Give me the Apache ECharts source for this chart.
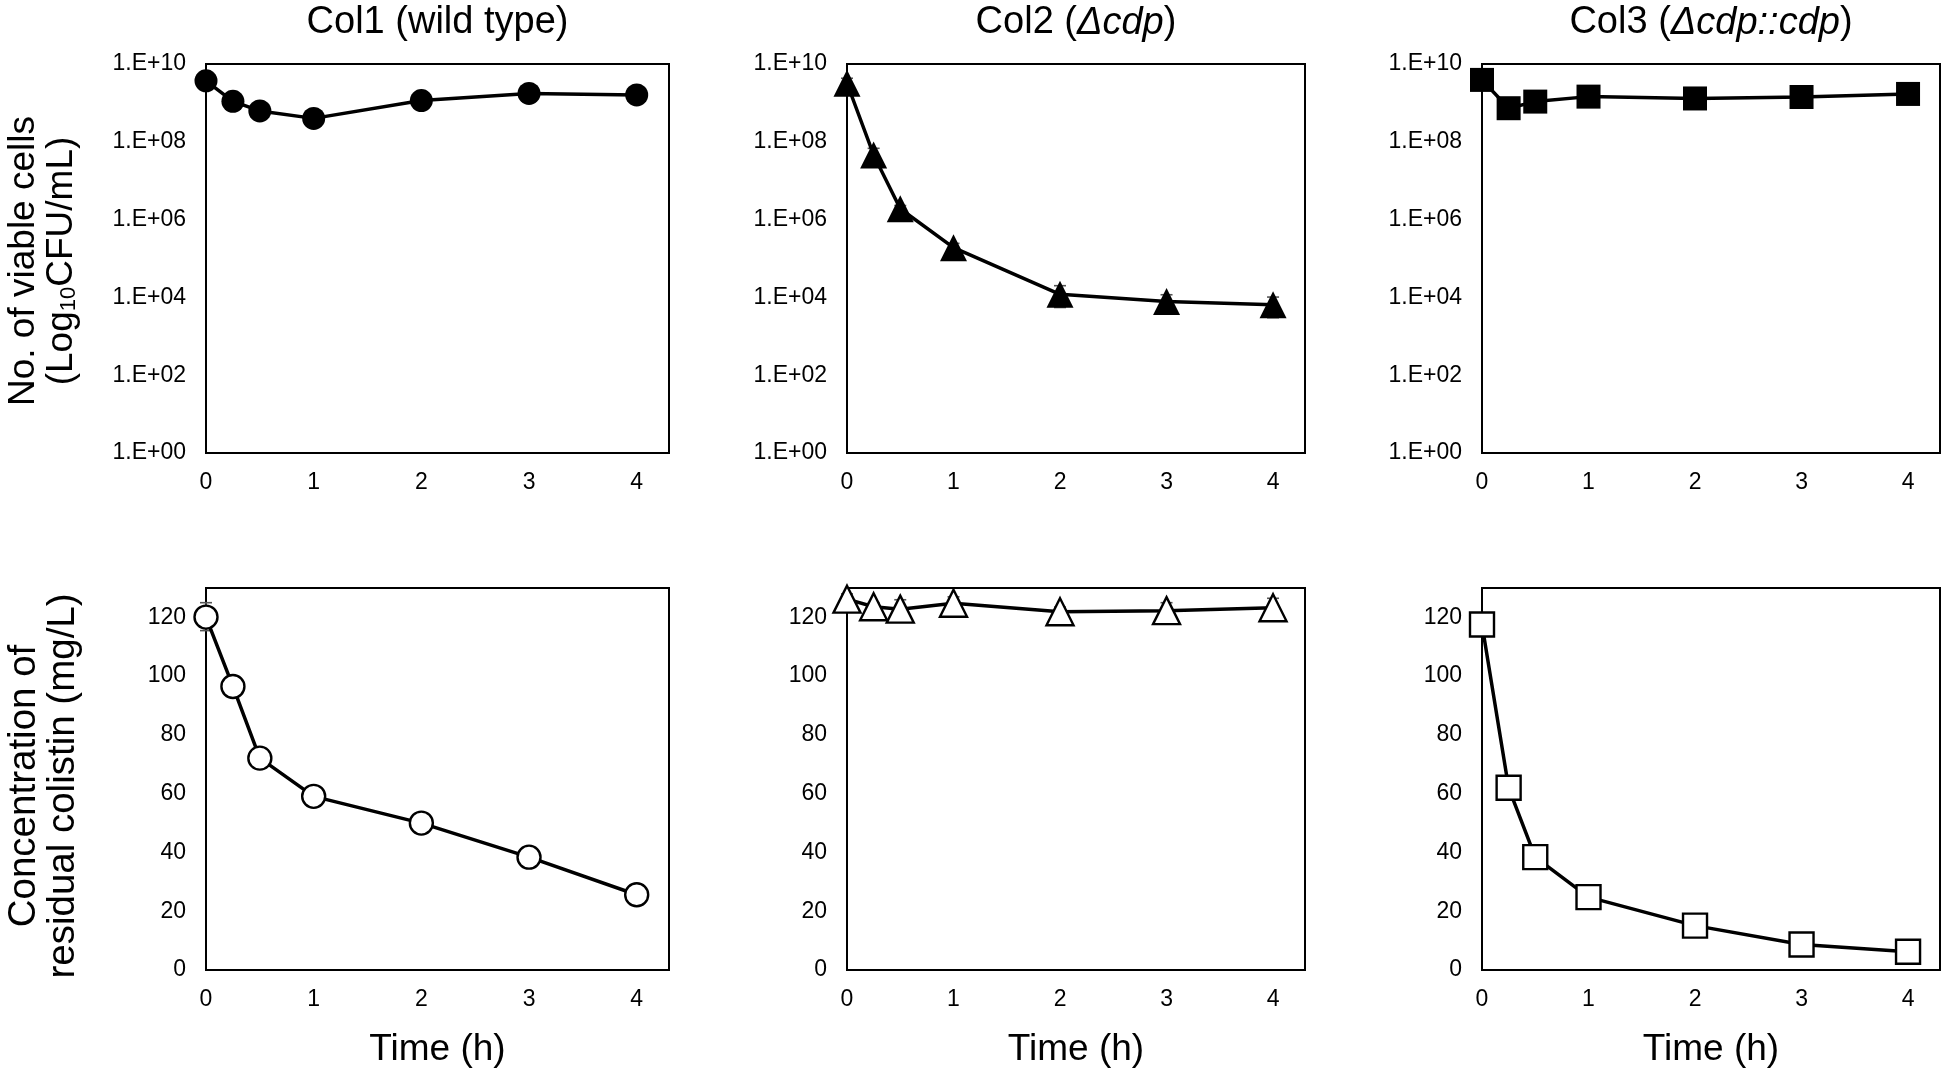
<!DOCTYPE html>
<html>
<head>
<meta charset="utf-8">
<script src="https://cdn.jsdelivr.net/npm/echarts@6/dist/echarts.min.js"></script>
<style>
html,body{margin:0;padding:0;background:#fff;}
#chart{width:1944px;height:1069px;}
</style>
</head>
<body>
<div id="chart"></div>
<script>
// ---- data ----
const times = [0, 0.25, 0.5, 1, 2, 3, 4];
const xTicks = [0, 1, 2, 3, 4];
const logTickLabels = ['1.E+00', '1.E+02', '1.E+04', '1.E+06', '1.E+08', '1.E+10'];
const panelTitles = ['Col1 (wild type)', 'Col2 (Δcdp)', 'Col3 (Δcdp::cdp)'];

const col1Cfu = [3.7e9, 1.1e9, 6.2e8, 4.0e8, 1.15e9, 1.75e9, 1.6e9];
const col2Cfu = [3.2e9, 4.6e7, 1.9e6, 1.9e5, 1.2e4, 7.9e3, 6.5e3];
const col3Cfu = [3.9e9, 7.3e8, 1.08e9, 1.45e9, 1.3e9, 1.42e9, 1.7e9];
const col2CfuHi = [4.3e9, 6.8e7, 2.3e6, 2.45e5, 2.0e4, 1.17e4, 1.02e4];
const col2CfuLo = [2.4e9, 3.2e7, 1.6e6, 1.5e5, 5.5e3, 5.2e3, 3.0e3];

const col1Colistin = [120.1, 96.5, 72.1, 59.1, 50.0, 38.4, 25.6];
const col2Colistin = [126.2, 123.6, 122.8, 124.8, 121.9, 122.3, 123.3];
const col3Colistin = [117.6, 62.0, 38.4, 24.8, 15.1, 8.7, 6.2];
const col1ColistinHi = [125, 97.5, 73, 60, 51, 39.4, 26.6];
const col1ColistinLo = [115.5, 95.5, 71, 58, 49, 37.4, 24.6];
const col2ColistinHi = [128, 125, 126, 127, 123.5, 125, 126.5];
const col2ColistinLo = [124.4, 122.2, 119.6, 122.6, 120.3, 119.6, 120.1];

// ---- layout ----
const FONT = '"Liberation Sans", Arial, Helvetica, sans-serif';
const cols = [{left: 206, width: 463}, {left: 847, width: 458}, {left: 1482, width: 458}];
const rows = [{top: 64, height: 389}, {top: 588, height: 388}];

const chart = echarts.init(document.getElementById('chart'), null, {renderer: 'canvas'});

const grids = [], xAxes = [], yAxes = [], series = [];
rows.forEach((r, ri) => {
  cols.forEach((c, ci) => {
    grids.push({left: c.left, width: c.width, top: r.top, height: r.height, show: true,
      borderColor: '#000', borderWidth: 2, backgroundColor: 'transparent', containLabel: false});
    xAxes.push({
      gridIndex: grids.length - 1, type: 'value', min: 0, max: 4.3, interval: 1,
      axisLine: {show: false}, axisTick: {show: false}, splitLine: {show: false},
      axisLabel: {fontSize: 23, color: '#000', fontFamily: FONT, margin: 18, showMaxLabel: false,
        formatter: v => (xTicks.indexOf(v) >= 0 ? String(v) : '')},
      name: ri === 1 ? 'Time (h)' : '', nameLocation: 'middle', nameGap: 61,
      nameTextStyle: {fontSize: 37, color: '#000', fontFamily: FONT}
    });
    if (ri === 0) {
      // log axis with base 100 => one tick every two decades (1, 1e2, ... 1e10)
      yAxes.push({
        gridIndex: grids.length - 1, type: 'log', logBase: 100, min: 1, max: 1e10,
        axisLine: {show: false}, axisTick: {show: false}, splitLine: {show: false}, minorTick: {show: false},
        axisLabel: {fontSize: 23, color: '#000', fontFamily: FONT, margin: 20,
          formatter: v => logTickLabels[Math.round(Math.log10(v) / 2)] || ''}
      });
    } else {
      yAxes.push({
        gridIndex: grids.length - 1, type: 'value', min: 0, max: 130, interval: 20,
        axisLine: {show: false}, axisTick: {show: false}, splitLine: {show: false},
        axisLabel: {fontSize: 23, color: '#000', fontFamily: FONT, margin: 20, showMaxLabel: false}
      });
    }
  });
});

function lineSeries(idx, values, symbol, size, filled) {
  return {
    type: 'line', xAxisIndex: idx, yAxisIndex: idx, z: 3,
    data: times.map((t, j) => [t, values[j]]),
    symbol: symbol, symbolSize: size, showSymbol: true,
    lineStyle: {color: '#000', width: 3.5},
    itemStyle: {color: filled ? '#000' : '#fff', borderColor: '#000', borderWidth: filled ? 0 : 2.4, opacity: 1},
    emphasis: {disabled: true},
    animation: false
  };
}
function errSeries(idx, lo, hi) {
  return {
    type: 'custom', xAxisIndex: idx, yAxisIndex: idx, z: 2, animation: false,
    data: times.map((t, j) => [t, lo[j], hi[j]]),
    encode: {x: 0, y: [1, 2]},
    renderItem: (params, api) => {
      const x = api.value(0);
      const p1 = api.coord([x, api.value(1)]);
      const p2 = api.coord([x, api.value(2)]);
      const w = 6;
      const st = {stroke: '#555', lineWidth: 1.6};
      return {type: 'group', children: [
        {type: 'line', shape: {x1: p1[0], y1: p1[1], x2: p2[0], y2: p2[1]}, style: st},
        {type: 'line', shape: {x1: p1[0] - w, y1: p1[1], x2: p1[0] + w, y2: p1[1]}, style: st},
        {type: 'line', shape: {x1: p2[0] - w, y1: p2[1], x2: p2[0] + w, y2: p2[1]}, style: st}
      ]};
    }
  };
}

series.push(errSeries(1, col2CfuLo, col2CfuHi));
series.push(errSeries(3, col1ColistinLo, col1ColistinHi));
series.push(errSeries(4, col2ColistinLo, col2ColistinHi));
series.push(lineSeries(0, col1Cfu, 'circle', 23, true));
series.push(lineSeries(1, col2Cfu, 'triangle', 27, true));
series.push(lineSeries(2, col3Cfu, 'rect', 24, true));
series.push(lineSeries(3, col1Colistin, 'circle', 23, false));
series.push(lineSeries(4, col2Colistin, 'triangle', 27, false));
series.push(lineSeries(5, col3Colistin, 'rect', 24, false));

const titleRich = {
  n: {fontSize: 38, fontFamily: FONT, fill: '#000', color: '#000'},
  i: {fontSize: 38, fontFamily: FONT, fontStyle: 'italic', fill: '#000', color: '#000'}
};
const titleTexts = [
  '{n|Col1 (wild type)}',
  '{n|Col2 (}{i|Δcdp}{n|)}',
  '{n|Col3 (}{i|Δcdp::cdp}{n|)}'
];
const graphics = titleTexts.map((t, i) => ({
  type: 'text', x: cols[i].left + cols[i].width / 2, y: 23, silent: true,
  style: {text: t, rich: titleRich, align: 'center', verticalAlign: 'middle', fill: '#000',
    fontSize: 38, fontFamily: FONT}
}));
const yTitleRich = {
  sub: {fontSize: 22, fontFamily: FONT, fill: '#000', padding: [14, 0, 0, 0], lineHeight: 38}
};
graphics.push({
  type: 'text', x: 43, y: 261, rotation: Math.PI / 2, silent: true,
  style: {text: 'No. of viable cells\n(Log{sub|10}CFU/mL)', rich: yTitleRich, align: 'center',
    verticalAlign: 'middle', fill: '#000', fontSize: 37, fontFamily: FONT, lineHeight: 38}
});
graphics.push({
  type: 'text', x: 44, y: 786, rotation: Math.PI / 2, silent: true,
  style: {text: 'Concentration of\nresidual colistin (mg/L)', align: 'center',
    verticalAlign: 'middle', fill: '#000', fontSize: 38.5, fontFamily: FONT, lineHeight: 39}
});

chart.setOption({
  backgroundColor: '#fff',
  animation: false,
  grid: grids, xAxis: xAxes, yAxis: yAxes, series: series,
  graphic: graphics
});
</script>
</body>
</html>
